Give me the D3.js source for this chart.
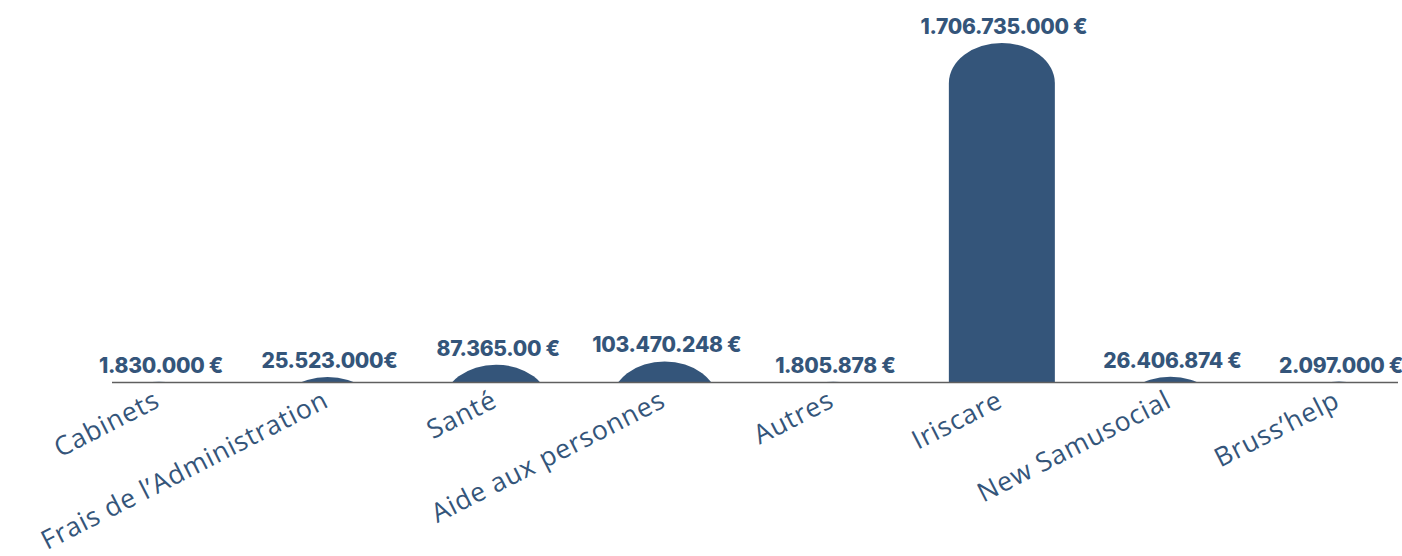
<!DOCTYPE html>
<html>
<head>
<meta charset="utf-8">
<script src="https://cdn.jsdelivr.net/npm/d3@7"></script>
<style>
  html, body { margin: 0; padding: 0; background: #ffffff; }
  svg { display: block; }
</style>
</head>
<body>
<svg id="chart" width="1402" height="556"></svg>
<script>
const categories = ["Cabinets", "Frais de l’Administration", "Santé", "Aide aux personnes", "Autres", "Iriscare", "New Samusocial", "Bruss’help"];
const values = [1830000, 25523000, 87365000, 103470248, 1805878, 1706735000, 26406874, 2097000];
const valueLabels = ["1.830.000 €", "25.523.000€", "87.365.00 €", "103.470.248 €", "1.805.878 €", "1.706.735.000 €", "26.406.874 €", "2.097.000 €"];

const W = 1402, H = 556;
const baseY = 382, topY = 43;
const barW = 106, rx = 53, ry = 40;
const color = "#34557a";

const svg = d3.select("#chart");

const x = d3.scalePoint().domain(categories).range([159, 1339]);
const y = d3.scaleLinear().domain([0, d3.max(values)]).range([baseY, topY]);

svg.append("defs").append("clipPath").attr("id", "clipBase")
  .append("rect").attr("x", 0).attr("y", 0).attr("width", W).attr("height", baseY);

const data = categories.map((c, i) => ({ c, v: values[i], label: valueLabels[i] }));

svg.append("g").attr("clip-path", "url(#clipBase)")
  .selectAll("rect").data(data).join("rect")
  .attr("x", d => x(d.c) - barW / 2)
  .attr("y", d => y(d.v))
  .attr("width", barW)
  .attr("height", d => baseY - y(d.v) + 2 * ry + 10)
  .attr("rx", rx).attr("ry", ry)
  .attr("fill", color);

svg.append("line")
  .attr("x1", 112).attr("x2", 1398)
  .attr("y1", baseY + 0.5).attr("y2", baseY + 0.5)
  .attr("stroke", "#5f5f5f").attr("stroke-width", 1.6);

svg.append("g").selectAll("text").data(data).join("text")
  .attr("x", d => x(d.c) + 2)
  .attr("y", d => y(d.v) - 9)
  .attr("text-anchor", "middle")
  .attr("font-family", "Inter, 'DejaVu Sans', sans-serif")
  .attr("font-weight", 800)
  .attr("font-size", 21)
  .attr("letter-spacing", -0.3)
  .attr("fill", color)
  .text(d => d.label);

const axis = svg.append("g").attr("transform", `translate(0,${baseY})`)
  .call(d3.axisBottom(x).tickSize(0));
axis.select(".domain").remove();
axis.selectAll("text")
  .attr("x", 0).attr("y", 0).attr("dy", 0)
  .attr("transform", "translate(2,24) rotate(-27)")
  .attr("text-anchor", "end")
  .attr("font-family", "'Open Sans', sans-serif")
  .attr("font-size", 26.5)
  .attr("letter-spacing", 0.8)
  .attr("fill", color);
</script>
</body>
</html>
